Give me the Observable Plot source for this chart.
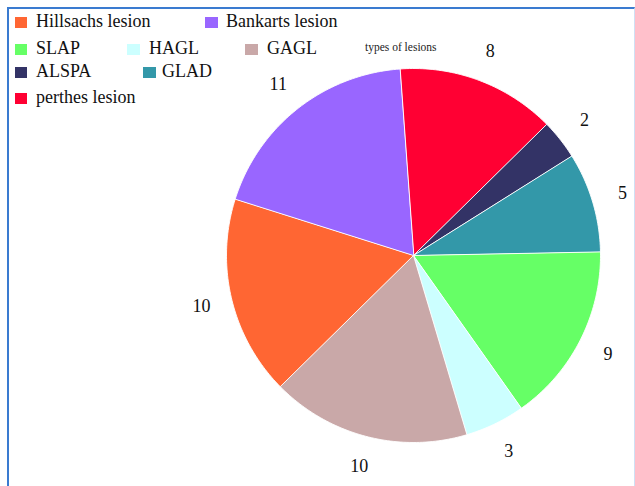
<!DOCTYPE html>
<html>
<head>
<meta charset="utf-8">
<script src="https://cdn.jsdelivr.net/npm/d3@7"></script>
<script src="https://cdn.jsdelivr.net/npm/@observablehq/plot@0.6"></script>
<style>
  html, body { margin: 0; padding: 0; background: #fff; }
  #wrap { position: relative; width: 635px; height: 486px; overflow: hidden; background: #fff; font-family: "Liberation Serif", "Times New Roman", serif; }
  #chart { position: absolute; left: 0; top: 0; }
  #frame { position: absolute; left: 7px; top: 7px; width: 625px; height: 600px; border-left: 2px solid #3a7bd0; border-top: 2px solid #3a7bd0; border-right: 1px solid #cfe0f4; pointer-events: none; z-index: 3; }
  .sw { position: absolute; width: 12px; height: 11px; z-index: 2; }
  .lt { position: absolute; font-size: 18px; line-height: 18px; white-space: nowrap; color: #111; z-index: 2; font-family: "Liberation Serif", "Times New Roman", serif; }
  #title { position: absolute; font-size: 11.5px; line-height: 12px; color: #222; white-space: nowrap; z-index: 2; font-family: "Liberation Serif", "Times New Roman", serif; }
</style>
</head>
<body>
<div id="wrap">
  <div id="chart"></div>
  <div id="frame"></div>
</div>
<script>
// ---- data ----
const categories = ["Hillsachs lesion", "Bankarts lesion", "SLAP", "HAGL", "GAGL", "ALSPA", "GLAD", "perthes lesion"];
const counts = [10, 11, 9, 3, 10, 2, 5, 8];
const colors = ["#ff6633", "#9966ff", "#66ff66", "#ccffff", "#c9a8a8", "#333366", "#3398a9", "#ff0033"];
const pieOrder = ["perthes lesion", "ALSPA", "GLAD", "SLAP", "HAGL", "GAGL", "Hillsachs lesion", "Bankarts lesion"];
const chartTitle = "types of lesions";

// ---- layout constants ----
const W = 635, H = 486;
const cx = 413, cy = 255, radius = 187, labelRadius = 218;
const startDeg = -4.2;
const serif = "Liberation Serif, Times New Roman, serif";
// legend layout: [swatchX, textX, baseline]
const legendLayout = [
  [15, 36, 27], [205, 226, 27],
  [15, 36, 54], [127, 149, 54], [245, 267, 54],
  [15, 36, 77], [143, 162, 77],
  [15, 36, 103]
];

const rows = pieOrder.map(n => ({name: n, value: counts[categories.indexOf(n)]}));
const start = startDeg * Math.PI / 180;
const arcs = d3.pie().sort(null).value(d => d.value).startAngle(start).endAngle(start + 2 * Math.PI)(rows);

const polys = [];
const labels = [];
for (const a of arcs) {
  const name = a.data.name;
  polys.push({name, x: cx, y: cy});
  const steps = Math.max(2, Math.ceil((a.endAngle - a.startAngle) / (Math.PI / 180)));
  for (let i = 0; i <= steps; i++) {
    const t = a.startAngle + (a.endAngle - a.startAngle) * i / steps;
    polys.push({name, x: cx + radius * Math.sin(t), y: cy - radius * Math.cos(t)});
  }
  const m = (a.startAngle + a.endAngle) / 2;
  labels.push({name, x: cx + labelRadius * Math.sin(m), y: cy - labelRadius * Math.cos(m), text: String(a.data.value)});
}

const plot = Plot.plot({
  width: W, height: H, margin: 0,
  style: {background: "transparent", fontFamily: serif},
  x: {domain: [0, W], axis: null},
  y: {domain: [0, H], reverse: true, axis: null},
  color: {domain: categories, range: colors, type: "ordinal"},
  marks: [
    Plot.line(polys, {x: "x", y: "y", z: "name", fill: "name", stroke: "white", strokeWidth: 1, strokeOpacity: 0.9, curve: "linear-closed"}),
    Plot.text(labels, {x: "x", y: "y", text: "text", fontSize: 18, fontFamily: serif, fill: "#111"})
  ]
});
document.getElementById("chart").appendChild(plot);

// legend
const wrap = document.getElementById("wrap");
categories.forEach((c, i) => {
  const [sx, tx, base] = legendLayout[i];
  const sw = document.createElement("div");
  sw.className = "sw";
  sw.style.left = sx + "px";
  sw.style.top = (base - 10) + "px";
  sw.style.width = (sx > 100 ? 13 : 12) + "px";
  sw.style.background = colors[i];
  wrap.appendChild(sw);
  const t = document.createElement("div");
  t.className = "lt";
  t.style.left = tx + "px";
  t.style.top = (base - 15) + "px";
  t.textContent = c;
  wrap.appendChild(t);
});
const tt = document.createElement("div");
tt.id = "title";
tt.textContent = chartTitle;
tt.style.left = "365px";
tt.style.top = "41px";
wrap.appendChild(tt);
</script>
</body>
</html>
